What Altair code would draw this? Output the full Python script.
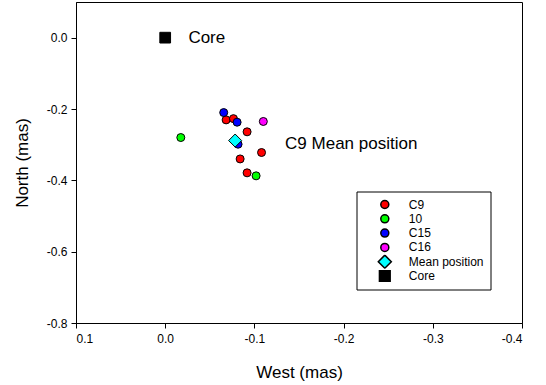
import altair as alt
import pandas as pd

series_order = ["C9", "10", "C15", "C16", "Mean position", "Core"]
series_colors = ["#ff0000", "#00ff00", "#0000ff", "#ff00ff", "#00ffff", "#000000"]
series_shapes = ["circle", "circle", "circle", "circle", "diamond", "square"]
series_sizes = [64, 64, 64, 64, 170, 115]

c9_west = [-0.0683, -0.0765, -0.0918, -0.108, -0.084, -0.0918]
c9_north = [-0.2305, -0.227, -0.264, -0.322, -0.340, -0.379]
s10_west = [-0.0175, -0.1019]
s10_north = [-0.280, -0.3874]
c15_west = [-0.0656, -0.0806, -0.0817]
c15_north = [-0.210, -0.237, -0.2987]
c16_west = [-0.110]
c16_north = [-0.235]
mean_west = [-0.0784]
mean_north = [-0.2885]
core_west = [0.0]
core_north = [0.0]

note_text = ["Core", "C9 Mean position"]
note_west = [-0.026, -0.1344]
note_north = [0.0, -0.2978]

x_ticks = [0.1, 0.0, -0.1, -0.2, -0.3, -0.4]
y_ticks = [0.0, -0.2, -0.4, -0.6, -0.8]

rows = []
for name, ws, ns in [("C9", c9_west, c9_north), ("10", s10_west, s10_north),
                     ("C15", c15_west, c15_north), ("C16", c16_west, c16_north),
                     ("Mean position", mean_west, mean_north), ("Core", core_west, core_north)]:
    for w, n in zip(ws, ns):
        rows.append({"series": name, "west": w, "north": n})
df = pd.DataFrame(rows)
notes = pd.DataFrame({"text": note_text, "west": note_west, "north": note_north})

FONT = "Liberation Sans"
lbl = "replace(format(datum.value, '.1f'), '\u2212', '-')"

xenc = alt.X("west:Q", title="West (mas)",
             scale=alt.Scale(domain=[-0.4, 0.1], reverse=True, nice=False, zero=False),
             axis=alt.Axis(values=x_ticks, labelExpr=lbl, grid=False, titlePadding=20, labelPadding=5))
yenc = alt.Y("north:Q", title="North (mas)",
             scale=alt.Scale(domain=[-0.8, 0.1], nice=False, zero=False),
             axis=alt.Axis(values=y_ticks, labelExpr=lbl, grid=False, titlePadding=15, labelPadding=4))

legend = alt.Legend(title=None, orient="none", legendX=280.5, legendY=189.5,
                    padding=6, rowPadding=0.3, clipHeight=14, symbolOffset=14.8, labelOffset=16.5,
                    labelFont=FONT, labelFontSize=12, labelColor="black",
                    strokeColor="black", fillColor="white")

points = alt.Chart(df).mark_point(filled=True, stroke="black", strokeWidth=1, opacity=1).encode(
    x=xenc, y=yenc,
    color=alt.Color("series:N", scale=alt.Scale(domain=series_order, range=series_colors), legend=legend),
    shape=alt.Shape("series:N", scale=alt.Scale(domain=series_order, range=series_shapes), legend=legend),
    size=alt.Size("series:N", scale=alt.Scale(type="ordinal", domain=series_order, range=series_sizes), legend=legend),
)

texts = alt.Chart(notes).mark_text(align="left", baseline="middle", font=FONT, fontSize=17, color="black").encode(
    x=alt.X("west:Q"), y=alt.Y("north:Q"), text="text:N")

chart = alt.layer(points, texts).properties(
    width=446, height=321,
    background="white",
    autosize=alt.AutoSizeParams(type="none"),
    padding={"left": 76, "top": 2, "right": 24, "bottom": 62},
).configure_view(stroke="black", strokeWidth=1).configure_axis(
    grid=False, labelFont=FONT, labelFontSize=12, labelColor="black",
    titleFont=FONT, titleFontSize=17, titleFontWeight="normal", titleColor="black",
    domainColor="black", tickColor="black", tickSize=5,
)

chart.save("out.html", embed_options={"renderer": "svg", "actions": False})
